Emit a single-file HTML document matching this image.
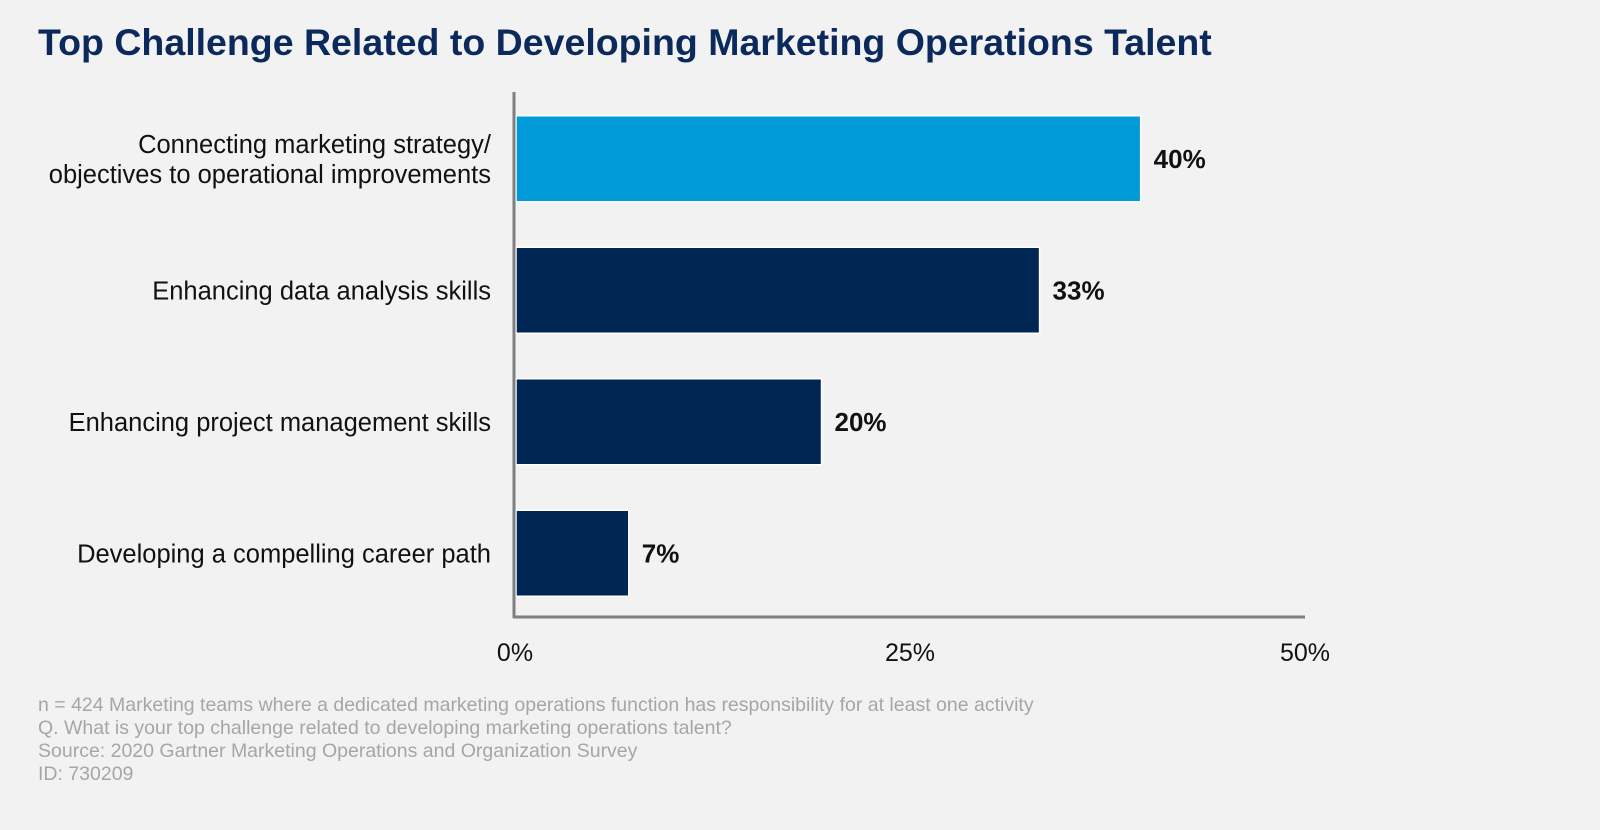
<!DOCTYPE html>
<html><head><meta charset="utf-8"><style>
body{margin:0;width:1600px;height:825px;background:#f2f2f2;overflow:hidden;font-family:"Liberation Sans",Arial,sans-serif;}
</style></head><body>
<svg width="1600" height="825" xmlns="http://www.w3.org/2000/svg">
<rect width="1600" height="825" fill="#f2f2f2"/>
<text x="38" y="55" font-size="37.5" font-weight="bold" fill="#0b2a5b" font-family="Liberation Sans, sans-serif">Top Challenge Related to Developing Marketing Operations Talent</text>
<g id="bars"></g>
<line x1="514" y1="92" x2="514" y2="618" stroke="#7f7f7f" stroke-width="3"/>
<line x1="513" y1="617" x2="1305" y2="617" stroke="#7f7f7f" stroke-width="3"/>
<g id="ticks"></g>
<g font-size="19.5" fill="#a6a6a6" font-family="Liberation Sans, sans-serif">
<text x="38" y="711">n = 424 Marketing teams where a dedicated marketing operations function has responsibility for at least one activity</text>
<text x="38" y="734">Q. What  is your top challenge related to developing marketing operations talent?</text>
<text x="38" y="757">Source: 2020 Gartner Marketing Operations and Organization Survey</text>
<text x="38" y="780">ID: 730209</text>
</g>
</svg>
<script>
const categories=[["Connecting marketing strategy/","objectives to operational improvements"],["Enhancing data analysis skills"],["Enhancing project management skills"],["Developing a compelling career path"]];
const values=[39.6,33.2,19.4,7.2];
const valueLabels=["40%","33%","20%","7%"];
const tickValues=[0,25,50];
const tickLabels=["0%","25%","50%"];
const NS="http://www.w3.org/2000/svg";
const x0=515,x1=1305,vmax=50;
const xs=v=>x0+(v/vmax)*(x1-x0);
const bandTop=92,band=131.5,barH=86;
const yb=i=>bandTop+i*band+(band-barH)/2+1;
const bars=document.getElementById('bars');
function mk(t,a){const e=document.createElementNS(NS,t);for(const k in a)e.setAttribute(k,a[k]);return e;}
values.forEach((v,i)=>{
 const r=mk('rect',{x:x0+1,y:yb(i),width:xs(v)-x0-1,height:barH,fill:i===0?'#009bd8':'#002654',stroke:'#ffffff','stroke-width':1.5});
 
 
 bars.appendChild(r);
 const t=mk('text',{x:xs(v)+13,y:yb(i)+barH/2+9,'font-size':26,'font-weight':'bold',fill:'#111'});
 t.textContent=valueLabels[i];
 
 
 bars.appendChild(t);
 const lines=categories[i];
 lines.forEach((ln,j)=>{
  const c=mk('text',{x:491,y:yb(i)+barH/2+9+(j-(lines.length-1)/2)*30,'font-size':25.5,'text-anchor':'end',fill:'#111'});
  c.textContent=ln;
  
  
  bars.appendChild(c);
 });
});
const ticks=document.getElementById('ticks');
tickValues.forEach((v,i)=>{
 const t=mk('text',{x:xs(v),y:661,'font-size':25,'text-anchor':'middle',fill:'#111'});
 t.textContent=tickLabels[i];
 
 
 ticks.appendChild(t);
});
</script>
</body></html>
